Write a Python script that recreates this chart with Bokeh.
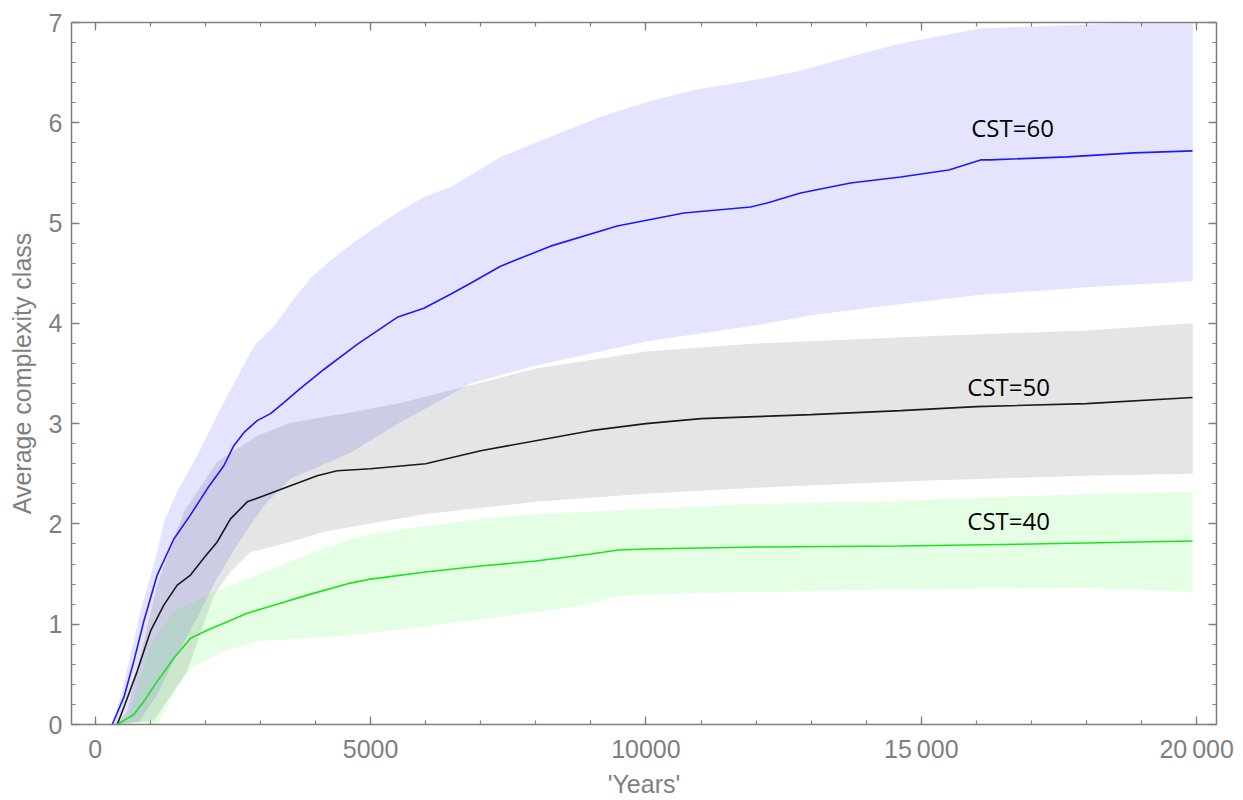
from bokeh.plotting import figure
from bokeh.models import Range1d, LinearAxis, FixedTicker, CustomJSTickFormatter
from bokeh.embed import file_html
from bokeh.resources import INLINE
from bokeh.core.properties import value

# ---------------- data ----------------
# CST=60 (blue)
b_x = [309, 520, 701, 883, 1126, 1428, 1731, 2034, 2336, 2517, 2699, 2941, 3183, 3425, 3700,
       4152, 4757, 5484, 5967, 6452, 6815, 7360, 8268, 9479, 10689, 11900, 12203, 12808, 13716,
       14624, 15500, 16077, 16258, 17650, 18857, 19925]
b_y = [0, 0.27, 0.63, 1.03, 1.49, 1.85, 2.09, 2.35, 2.58, 2.78, 2.91, 3.03, 3.10, 3.21, 3.34,
       3.54, 3.79, 4.06, 4.15, 4.29, 4.40, 4.57, 4.77, 4.97, 5.10, 5.16, 5.20, 5.30, 5.40,
       5.46, 5.53, 5.63, 5.63, 5.66, 5.70, 5.72]
b_up_x = [300, 459, 641, 822, 1126, 1246, 1489, 1852, 2094, 2336, 2517, 2880, 3243, 3546, 3910,
          4273, 4757, 5362, 5967, 6452, 6815, 7360, 8268, 9176, 10084, 10992, 11900, 12808,
          13716, 14624, 16077, 17000, 18000, 19000, 19930]
b_up_y = [0, 0.27, 0.70, 1.13, 1.72, 2.02, 2.32, 2.68, 2.95, 3.21, 3.40, 3.77, 3.97, 4.20, 4.45,
          4.63, 4.83, 5.06, 5.26, 5.36, 5.48, 5.66, 5.86, 6.06, 6.22, 6.34, 6.42, 6.52,
          6.66, 6.79, 6.94, 6.96, 6.98, 7.0, 7.05]
b_lo_x = [300, 800, 1126, 1489, 1912, 2215, 2578, 3062, 3546, 4636, 5500, 6000, 6815, 8000,
          10000, 12000, 13000, 14000, 16000, 18000, 19930]
b_lo_y = [0, 0.03, 0.3, 0.7, 1.13, 1.46, 1.79, 2.18, 2.45, 2.71, 3.0, 3.15, 3.4, 3.58,
          3.82, 3.98, 4.08, 4.15, 4.28, 4.36, 4.42]

# CST=50 (black)
k_x = [400, 520, 762, 1004, 1246, 1489, 1731, 1973, 2215, 2457, 2760, 3062, 3546, 4031, 4394,
       5000, 6000, 7000, 8000, 9000, 10000, 11000, 12000, 13000, 14624, 16000, 18000, 19925]
k_y = [0, 0.17, 0.53, 0.93, 1.19, 1.39, 1.49, 1.66, 1.82, 2.05, 2.22, 2.28, 2.38, 2.48, 2.53,
       2.55, 2.6, 2.73, 2.83, 2.93, 3.0, 3.05, 3.07, 3.09, 3.13, 3.17, 3.2, 3.26]
k_up_x = [400, 581, 1126, 1609, 2215, 2941, 3546, 4636, 5500, 6800, 8000, 10000, 12000, 15000,
          18000, 19930]
k_up_y = [0, 0.14, 1.39, 2.12, 2.62, 2.88, 3.01, 3.11, 3.2, 3.38, 3.55, 3.72, 3.8, 3.87,
          3.93, 4.0]
k_lo_x = [400, 1065, 1670, 2155, 2457, 2820, 3546, 4152, 4636, 6000, 8000, 10000, 12000, 15000,
          18000, 19930]
k_lo_y = [0, 0.04, 0.53, 1.29, 1.52, 1.72, 1.82, 1.92, 1.97, 2.1, 2.22, 2.3, 2.36, 2.43,
          2.48, 2.5]

# CST=40 (green)
g_x = [400, 701, 883, 1126, 1428, 1731, 2034, 2336, 2760, 3244, 3850, 4636, 5000, 6000, 7000,
       8000, 9000, 9500, 10000, 12000, 14624, 17000, 19925]
g_y = [0, 0.10, 0.23, 0.43, 0.66, 0.86, 0.94, 1.01, 1.11, 1.19, 1.29, 1.41, 1.45, 1.52, 1.58,
       1.63, 1.7, 1.74, 1.75, 1.77, 1.78, 1.8, 1.83]
g_up_x = [400, 581, 1004, 1428, 2155, 2941, 3850, 4636, 5000, 6000, 7000, 8000, 10000, 12000,
          14624, 17000, 19925]
g_up_y = [0, 0.05, 0.79, 1.13, 1.32, 1.49, 1.69, 1.85, 1.9, 1.98, 2.05, 2.1, 2.15, 2.2,
          2.23, 2.28, 2.32]
g_lo_x = [1126, 1489, 1731, 2336, 2941, 3850, 4636, 6000, 7000, 8000, 9000, 9500, 10000, 12000,
          15000, 18000, 19925]
g_lo_y = [0, 0.36, 0.56, 0.73, 0.83, 0.86, 0.89, 0.98, 1.05, 1.12, 1.2, 1.28, 1.3, 1.32,
          1.35, 1.36, 1.32]

x_ticks = [0, 5000, 10000, 15000, 20000]
x_tick_labels = ["0", "5000", "10000", "15\u2009000", "20\u2009000"]
y_ticks = [0, 1, 2, 3, 4, 5, 6, 7]
labels = ["CST=60", "CST=50", "CST=40"]

GRAY = "#7f7f7f"
FONT = "Liberation Sans"

p = figure(width=1243, height=800, x_range=Range1d(-430, 20360), y_range=Range1d(0, 7),
           output_backend="svg", toolbar_location=None,
           min_border_left=71, min_border_right=27, min_border_top=22, min_border_bottom=73)
p.xgrid.visible = False
p.ygrid.visible = False
p.outline_line_color = None
p.background_fill_color = "white"
p.border_fill_color = "white"

# bands
def band(ux, uy, lx, ly):
    return list(ux) + list(lx)[::-1], list(uy) + list(ly)[::-1]

bx, by = band(b_up_x, b_up_y, b_lo_x, b_lo_y)
kx, ky = band(k_up_x, k_up_y, k_lo_x, k_lo_y)
gx, gy = band(g_up_x, g_up_y, g_lo_x, g_lo_y)
p.patch(bx, by, fill_color="#0000ff", fill_alpha=0.105, line_color=None)
p.patch(kx, ky, fill_color="#000000", fill_alpha=0.10, line_color=None)
p.patch(gx, gy, fill_color="#00ff00", fill_alpha=0.10, line_color=None)

# mean lines
p.line(b_x, b_y, line_color="#1a1aff", line_width=1.6)
p.line(k_x, k_y, line_color="#1a1a1a", line_width=1.6)
p.line(g_x, g_y, line_color="#19e619", line_width=1.6)

# annotations
p.text(x=[16657, 16585, 16585], y=[5.95, 3.37, 2.03], text=labels,
       text_font=value("Open Sans"), text_font_size="24px", text_color="black",
       text_align="center", text_baseline="middle")

# axes
xt = FixedTicker(ticks=x_ticks, minor_ticks=list(range(0, 20001, 1000)))
yt = FixedTicker(ticks=y_ticks, minor_ticks=[round(0.2 * i, 1) for i in range(36)])

def style(ax):
    ax.axis_line_color = GRAY
    ax.axis_line_width = 1.5
    ax.major_tick_line_color = GRAY
    ax.minor_tick_line_color = GRAY
    ax.major_tick_line_width = 1.3
    ax.minor_tick_line_width = 1.2
    ax.major_tick_in = 8
    ax.major_tick_out = 0
    ax.minor_tick_in = 4
    ax.minor_tick_out = 0
    ax.major_label_text_color = GRAY
    ax.major_label_text_font = FONT
    ax.major_label_text_font_size = "25px"
    ax.axis_label_text_color = GRAY
    ax.axis_label_text_font = FONT
    ax.axis_label_text_font_size = "25px"
    ax.axis_label_text_font_style = "normal"

xa = p.xaxis[0]
ya = p.yaxis[0]
xa.ticker = xt
ya.ticker = yt
xa.major_label_overrides = {t: l for t, l in zip(x_ticks, x_tick_labels)}
xa.axis_label = "'Years'"
ya.axis_label = "Average complexity class"
style(xa)
style(ya)
xa.major_label_standoff = 10
ya.major_label_standoff = 9
xa.axis_label_standoff = 4
ya.axis_label_standoff = 10

blank = CustomJSTickFormatter(code="return '';")
top = LinearAxis(ticker=xt, formatter=blank)
right = LinearAxis(ticker=yt, formatter=blank)
style(top)
style(right)
top.major_label_standoff = 0
right.major_label_standoff = 0
top.major_label_text_font_size = "1px"
right.major_label_text_font_size = "1px"
p.add_layout(top, "above")
p.add_layout(right, "right")

open("out.html", "w").write(file_html(p, INLINE))
